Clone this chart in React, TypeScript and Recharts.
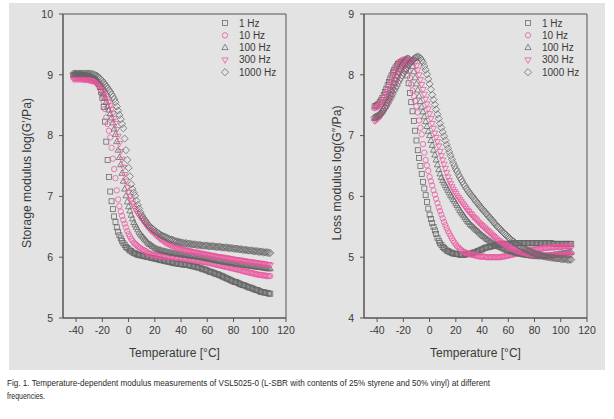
import React from "react";
import { ScatterChart, Scatter, XAxis, YAxis, ReferenceArea, Legend } from "recharts";

// measurement temperatures, °C
const temps = [
  -42, -41, -40, -39, -38, -37, -36, -35, -34, -33,
  -32, -31, -30, -29, -28, -27, -26, -25, -24, -23,
  -22, -21, -20, -19, -18, -17, -16, -15, -14, -13,
  -12, -11, -10, -9, -8, -7, -6, -5, -4, -3,
  -2, -1, 0, 1, 2, 3, 4, 5, 6, 7,
  8, 9, 10, 11, 12, 13, 14, 15, 16, 17,
  18, 19, 20, 21, 22, 23, 24, 25, 26, 27,
  28, 29, 30, 31, 32, 33, 34, 35, 36, 37,
  38, 39, 40, 41, 42, 43, 44, 45, 46, 47,
  48, 49, 50, 51, 52, 53, 54, 55, 56, 57,
  58, 59, 60, 61, 62, 63, 64, 65, 66, 67,
  68, 69, 70, 71, 72, 73, 74, 75, 76, 77,
  78, 79, 80, 81, 82, 83, 84, 85, 86, 87,
  88, 89, 90, 91, 92, 93, 94, 95, 96, 97,
  98, 99, 100, 101, 102, 103, 104, 105, 106, 107,
  108,
];

const frequencies = ["1 Hz", "10 Hz", "100 Hz", "300 Hz", "1000 Hz"];

// storage modulus log(G'/Pa)
const storage1 = [
  9.0, 9.0, 9.0, 9.0, 9.0, 9.0, 8.99, 8.99, 8.99, 8.98,
  8.98, 8.97, 8.96, 8.95, 8.94, 8.93, 8.92, 8.9, 8.88, 8.85,
  8.8, 8.72, 8.62, 8.47, 8.23, 7.9, 7.6, 7.32, 7.08, 6.92,
  6.79, 6.67, 6.58, 6.49, 6.42, 6.36, 6.31, 6.27, 6.23, 6.2,
  6.17, 6.15, 6.13, 6.11, 6.1, 6.08, 6.07, 6.06, 6.05, 6.04,
  6.04, 6.03, 6.03, 6.02, 6.02, 6.01, 6.01, 6.0, 6.0, 5.99,
  5.99, 5.98, 5.98, 5.97, 5.97, 5.96, 5.96, 5.95, 5.95, 5.94,
  5.94, 5.93, 5.93, 5.92, 5.92, 5.91, 5.91, 5.9, 5.9, 5.9,
  5.89, 5.89, 5.89, 5.88, 5.88, 5.88, 5.87, 5.87, 5.87, 5.86,
  5.86, 5.85, 5.85, 5.84, 5.84, 5.83, 5.83, 5.82, 5.81, 5.8,
  5.8, 5.79, 5.78, 5.77, 5.76, 5.76, 5.75, 5.74, 5.73, 5.72,
  5.72, 5.71, 5.7, 5.69, 5.68, 5.67, 5.66, 5.65, 5.64, 5.63,
  5.62, 5.61, 5.6, 5.59, 5.59, 5.58, 5.57, 5.56, 5.55, 5.54,
  5.54, 5.53, 5.52, 5.51, 5.5, 5.5, 5.49, 5.48, 5.47, 5.46,
  5.46, 5.45, 5.44, 5.43, 5.43, 5.42, 5.42, 5.41, 5.41, 5.4,
  5.4,
];
const storage10 = [
  8.95, 8.95, 8.95, 8.95, 8.95, 8.94, 8.94, 8.94, 8.94, 8.93,
  8.93, 8.93, 8.92, 8.92, 8.91, 8.9, 8.89, 8.88, 8.86, 8.84,
  8.8, 8.74, 8.66, 8.56, 8.44, 8.3, 8.19, 8.08, 7.97, 7.8,
  7.62, 7.45, 7.3, 7.1, 6.95, 6.84, 6.75, 6.68, 6.61, 6.55,
  6.49, 6.43, 6.38, 6.34, 6.3, 6.27, 6.24, 6.22, 6.2, 6.18,
  6.16, 6.15, 6.13, 6.12, 6.11, 6.1, 6.08, 6.07, 6.06, 6.05,
  6.04, 6.04, 6.03, 6.03, 6.03, 6.02, 6.02, 6.02, 6.01, 6.01,
  6.01, 6.01, 6.0, 6.0, 6.0, 6.0, 6.0, 5.99, 5.99, 5.99,
  5.99, 5.99, 5.98, 5.98, 5.98, 5.97, 5.97, 5.97, 5.96, 5.96,
  5.96, 5.95, 5.95, 5.95, 5.94, 5.94, 5.94, 5.93, 5.93, 5.92,
  5.92, 5.92, 5.91, 5.91, 5.9, 5.9, 5.89, 5.89, 5.88, 5.88,
  5.87, 5.87, 5.86, 5.86, 5.85, 5.85, 5.84, 5.84, 5.83, 5.83,
  5.82, 5.82, 5.81, 5.81, 5.8, 5.8, 5.79, 5.79, 5.78, 5.77,
  5.77, 5.76, 5.76, 5.75, 5.75, 5.74, 5.74, 5.73, 5.73, 5.72,
  5.72, 5.71, 5.71, 5.71, 5.7, 5.7, 5.7, 5.69, 5.69, 5.69,
  5.69,
];
const storage100 = [
  9.0, 9.0, 9.0, 9.0, 9.0, 9.0, 9.0, 8.99, 8.99, 8.99,
  8.99, 8.98, 8.98, 8.97, 8.96, 8.95, 8.94, 8.93, 8.91, 8.88,
  8.84, 8.79, 8.74, 8.68, 8.62, 8.55, 8.48, 8.42, 8.36, 8.29,
  8.21, 8.11, 8.02, 7.9, 7.76, 7.64, 7.52, 7.38, 7.25, 7.12,
  7.01, 6.91, 6.83, 6.76, 6.69, 6.63, 6.57, 6.53, 6.49, 6.45,
  6.41, 6.38, 6.35, 6.33, 6.3, 6.28, 6.25, 6.23, 6.21, 6.2,
  6.18, 6.17, 6.15, 6.14, 6.13, 6.12, 6.12, 6.11, 6.1, 6.1,
  6.09, 6.09, 6.08, 6.08, 6.07, 6.07, 6.06, 6.06, 6.06, 6.05,
  6.05, 6.05, 6.04, 6.04, 6.04, 6.03, 6.03, 6.03, 6.02, 6.02,
  6.02, 6.02, 6.01, 6.01, 6.01, 6.0, 6.0, 6.0, 5.99, 5.99,
  5.98, 5.98, 5.97, 5.97, 5.97, 5.96, 5.96, 5.95, 5.95, 5.94,
  5.94, 5.94, 5.93, 5.93, 5.92, 5.92, 5.92, 5.91, 5.91, 5.91,
  5.9, 5.9, 5.9, 5.89, 5.89, 5.89, 5.88, 5.88, 5.88, 5.87,
  5.87, 5.87, 5.86, 5.86, 5.86, 5.85, 5.85, 5.85, 5.84, 5.84,
  5.84, 5.84, 5.83, 5.83, 5.83, 5.82, 5.82, 5.82, 5.81, 5.81,
  5.81,
];
const storage300 = [
  8.93, 8.93, 8.93, 8.93, 8.93, 8.93, 8.93, 8.93, 8.92, 8.92,
  8.92, 8.92, 8.91, 8.91, 8.9, 8.9, 8.89, 8.88, 8.87, 8.86,
  8.83, 8.81, 8.78, 8.74, 8.7, 8.65, 8.6, 8.55, 8.49, 8.43,
  8.36, 8.28, 8.2, 8.1, 7.99, 7.87, 7.74, 7.61, 7.48, 7.36,
  7.25, 7.15, 7.07, 7.0, 6.94, 6.89, 6.84, 6.8, 6.76, 6.72,
  6.69, 6.66, 6.63, 6.6, 6.57, 6.54, 6.51, 6.49, 6.46, 6.44,
  6.42, 6.4, 6.38, 6.36, 6.34, 6.32, 6.3, 6.29, 6.27, 6.26,
  6.24, 6.23, 6.22, 6.21, 6.2, 6.19, 6.18, 6.17, 6.16, 6.15,
  6.15, 6.14, 6.13, 6.13, 6.12, 6.12, 6.11, 6.11, 6.1, 6.1,
  6.09, 6.09, 6.08, 6.08, 6.08, 6.07, 6.07, 6.06, 6.06, 6.05,
  6.05, 6.05, 6.04, 6.04, 6.03, 6.03, 6.03, 6.02, 6.02, 6.01,
  6.01, 6.01, 6.0, 6.0, 6.0, 5.99, 5.99, 5.99, 5.98, 5.98,
  5.97, 5.97, 5.97, 5.96, 5.96, 5.96, 5.95, 5.95, 5.95, 5.94,
  5.94, 5.94, 5.93, 5.93, 5.93, 5.92, 5.92, 5.92, 5.91, 5.91,
  5.91, 5.9, 5.9, 5.9, 5.89, 5.89, 5.89, 5.88, 5.88, 5.88,
  5.87,
];
const storage1000 = [
  9.02, 9.02, 9.02, 9.02, 9.02, 9.02, 9.02, 9.02, 9.02, 9.02,
  9.02, 9.02, 9.02, 9.02, 9.01, 9.01, 9.0, 8.99, 8.98, 8.96,
  8.94, 8.92, 8.9, 8.87, 8.84, 8.81, 8.78, 8.75, 8.72, 8.68,
  8.64, 8.6, 8.55, 8.48, 8.41, 8.34, 8.27, 8.19, 8.12, 7.95,
  7.76, 7.6, 7.47, 7.33, 7.2, 7.12, 7.06, 7.01, 6.93, 6.86,
  6.8, 6.74, 6.69, 6.65, 6.62, 6.59, 6.56, 6.53, 6.51, 6.49,
  6.47, 6.45, 6.43, 6.42, 6.4, 6.39, 6.37, 6.36, 6.35, 6.34,
  6.33, 6.32, 6.31, 6.3, 6.29, 6.29, 6.28, 6.27, 6.26, 6.26,
  6.25, 6.25, 6.24, 6.24, 6.23, 6.23, 6.23, 6.22, 6.22, 6.22,
  6.21, 6.21, 6.21, 6.21, 6.2, 6.2, 6.2, 6.2, 6.19, 6.19,
  6.19, 6.19, 6.19, 6.18, 6.18, 6.18, 6.18, 6.18, 6.17, 6.17,
  6.17, 6.17, 6.17, 6.16, 6.16, 6.16, 6.16, 6.16, 6.15, 6.15,
  6.15, 6.15, 6.14, 6.14, 6.14, 6.14, 6.13, 6.13, 6.13, 6.12,
  6.12, 6.12, 6.12, 6.11, 6.11, 6.11, 6.11, 6.1, 6.1, 6.1,
  6.1, 6.09, 6.09, 6.09, 6.09, 6.08, 6.08, 6.08, 6.08, 6.07,
  6.07,
];

// loss modulus log(G''/Pa)
const loss1 = [
  7.48, 7.49, 7.5, 7.52, 7.55, 7.58, 7.62, 7.67, 7.72, 7.77,
  7.83, 7.88, 7.94, 7.99, 8.04, 8.08, 8.12, 8.15, 8.18, 8.2,
  8.21, 8.22, 8.2, 8.16, 8.09, 7.99, 7.86, 7.7, 7.55, 7.4,
  7.24, 7.08, 6.92, 6.76, 6.63, 6.5, 6.37, 6.24, 6.13, 6.02,
  5.91, 5.8, 5.7, 5.63, 5.56, 5.5, 5.44, 5.38, 5.32, 5.27,
  5.23, 5.2, 5.17, 5.15, 5.13, 5.11, 5.1, 5.09, 5.08, 5.07,
  5.06, 5.06, 5.05, 5.05, 5.05, 5.04, 5.04, 5.04, 5.04, 5.04,
  5.05, 5.05, 5.05, 5.06, 5.06, 5.07, 5.08, 5.08, 5.09, 5.1,
  5.11, 5.12, 5.13, 5.14, 5.15, 5.16, 5.16, 5.17, 5.17, 5.18,
  5.18, 5.19, 5.19, 5.2, 5.2, 5.21, 5.21, 5.21, 5.21, 5.22,
  5.22, 5.22, 5.22, 5.22, 5.22, 5.23, 5.23, 5.23, 5.23, 5.23,
  5.23, 5.23, 5.23, 5.23, 5.23, 5.23, 5.23, 5.23, 5.23, 5.23,
  5.23, 5.23, 5.23, 5.23, 5.23, 5.23, 5.23, 5.23, 5.23, 5.23,
  5.23, 5.23, 5.23, 5.23, 5.23, 5.23, 5.22, 5.22, 5.22, 5.22,
  5.22, 5.22, 5.22, 5.22, 5.22, 5.22, 5.22, 5.22, 5.22, 5.22,
  5.22,
];
const loss10 = [
  7.45, 7.46, 7.47, 7.49, 7.52, 7.55, 7.58, 7.62, 7.66, 7.71,
  7.76, 7.81, 7.87, 7.92, 7.98, 8.03, 8.08, 8.12, 8.16, 8.19,
  8.22, 8.24, 8.25, 8.25, 8.22, 8.16, 8.06, 7.95, 7.84, 7.74,
  7.65, 7.57, 7.48, 7.38, 7.25, 7.13, 7.02, 6.86, 6.72, 6.6,
  6.51, 6.42, 6.32, 6.25, 6.18, 6.1, 6.03, 5.96, 5.89, 5.82,
  5.76, 5.7, 5.64, 5.58, 5.53, 5.48, 5.43, 5.39, 5.35, 5.31,
  5.27, 5.24, 5.21, 5.18, 5.16, 5.14, 5.12, 5.1, 5.09, 5.08,
  5.07, 5.06, 5.05, 5.05, 5.04, 5.04, 5.03, 5.03, 5.02, 5.02,
  5.01, 5.01, 5.01, 5.01, 5.01, 5.0, 5.0, 5.0, 5.0, 5.0,
  5.0, 5.0, 5.0, 5.0, 5.0, 5.0, 5.0, 5.01, 5.01, 5.01,
  5.02, 5.02, 5.03, 5.03, 5.04, 5.04, 5.05, 5.05, 5.06, 5.06,
  5.07, 5.07, 5.08, 5.08, 5.09, 5.09, 5.1, 5.1, 5.11, 5.11,
  5.12, 5.12, 5.12, 5.13, 5.13, 5.13, 5.14, 5.14, 5.14, 5.15,
  5.15, 5.15, 5.15, 5.16, 5.16, 5.16, 5.16, 5.16, 5.17, 5.17,
  5.17, 5.17, 5.17, 5.17, 5.18, 5.18, 5.18, 5.18, 5.18, 5.18,
  5.18,
];
const loss100 = [
  7.28, 7.29, 7.3, 7.32, 7.34, 7.37, 7.4, 7.44, 7.48, 7.53,
  7.58, 7.63, 7.68, 7.74, 7.8, 7.86, 7.92, 7.98, 8.04, 8.09,
  8.14, 8.18, 8.21, 8.24, 8.26, 8.27, 8.27, 8.25, 8.21, 8.14,
  8.05, 7.95, 7.85, 7.75, 7.65, 7.56, 7.47, 7.39, 7.31, 7.23,
  7.15, 7.07, 7.0, 6.92, 6.84, 6.76, 6.68, 6.6, 6.52, 6.44,
  6.37, 6.31, 6.26, 6.22, 6.18, 6.14, 6.1, 6.06, 6.02, 5.99,
  5.95, 5.92, 5.88, 5.85, 5.81, 5.77, 5.74, 5.71, 5.68, 5.65,
  5.62, 5.59, 5.57, 5.54, 5.52, 5.5, 5.48, 5.46, 5.44, 5.42,
  5.4, 5.38, 5.36, 5.34, 5.33, 5.31, 5.29, 5.28, 5.26, 5.25,
  5.23, 5.22, 5.21, 5.2, 5.18, 5.17, 5.16, 5.15, 5.14, 5.13,
  5.12, 5.11, 5.11, 5.1, 5.09, 5.09, 5.08, 5.07, 5.07, 5.06,
  5.06, 5.05, 5.05, 5.04, 5.04, 5.04, 5.03, 5.03, 5.03, 5.02,
  5.02, 5.02, 5.02, 5.01, 5.01, 5.01, 5.01, 5.01, 5.01, 5.01,
  5.02, 5.02, 5.02, 5.02, 5.03, 5.03, 5.03, 5.04, 5.04, 5.04,
  5.05, 5.05, 5.05, 5.06, 5.06, 5.06, 5.07, 5.07, 5.07, 5.08,
  5.08,
];
const loss300 = [
  7.24, 7.25, 7.27, 7.29, 7.31, 7.34, 7.37, 7.41, 7.45, 7.49,
  7.54, 7.59, 7.64, 7.69, 7.75, 7.8, 7.86, 7.91, 7.96, 8.01,
  8.05, 8.09, 8.13, 8.16, 8.19, 8.21, 8.23, 8.24, 8.25, 8.25,
  8.23, 8.2, 8.15, 8.08, 8.0, 7.92, 7.84, 7.76, 7.68, 7.6,
  7.52, 7.44, 7.36, 7.28, 7.2, 7.12, 7.04, 6.97, 6.9, 6.83,
  6.74, 6.67, 6.6, 6.53, 6.46, 6.39, 6.32, 6.26, 6.21, 6.16,
  6.12, 6.08, 6.05, 6.01, 5.98, 5.95, 5.92, 5.89, 5.86, 5.83,
  5.8, 5.77, 5.75, 5.72, 5.7, 5.67, 5.65, 5.63, 5.61, 5.58,
  5.56, 5.54, 5.52, 5.5, 5.48, 5.46, 5.44, 5.42, 5.4, 5.38,
  5.36, 5.34, 5.32, 5.3, 5.28, 5.27, 5.25, 5.24, 5.22, 5.21,
  5.2, 5.18, 5.17, 5.16, 5.15, 5.14, 5.13, 5.12, 5.11, 5.1,
  5.1, 5.09, 5.08, 5.08, 5.07, 5.07, 5.06, 5.06, 5.05, 5.05,
  5.05, 5.04, 5.04, 5.04, 5.04, 5.04, 5.03, 5.03, 5.03, 5.03,
  5.03, 5.03, 5.03, 5.03, 5.03, 5.03, 5.03, 5.03, 5.04, 5.04,
  5.04, 5.04, 5.04, 5.04, 5.04, 5.05, 5.05, 5.05, 5.05, 5.05,
  5.05,
];
const loss1000 = [
  7.3, 7.31, 7.32, 7.33, 7.35, 7.37, 7.4, 7.43, 7.46, 7.49,
  7.53, 7.57, 7.61, 7.65, 7.69, 7.74, 7.78, 7.82, 7.87, 7.91,
  7.95, 7.99, 8.03, 8.06, 8.1, 8.13, 8.16, 8.19, 8.22, 8.24,
  8.26, 8.28, 8.29, 8.3, 8.29, 8.27, 8.24, 8.2, 8.14, 8.08,
  8.01, 7.93, 7.85, 7.76, 7.67, 7.59, 7.51, 7.43, 7.35, 7.28,
  7.2, 7.13, 7.06, 6.99, 6.92, 6.85, 6.79, 6.73, 6.67, 6.61,
  6.55, 6.5, 6.45, 6.41, 6.36, 6.32, 6.28, 6.24, 6.2, 6.17,
  6.13, 6.1, 6.07, 6.04, 6.01, 5.99, 5.96, 5.93, 5.9, 5.88,
  5.85, 5.82, 5.8, 5.77, 5.75, 5.72, 5.7, 5.67, 5.65, 5.62,
  5.6, 5.57, 5.55, 5.52, 5.5, 5.48, 5.46, 5.43, 5.41, 5.39,
  5.37, 5.35, 5.33, 5.31, 5.29, 5.27, 5.26, 5.24, 5.22, 5.21,
  5.19, 5.18, 5.17, 5.15, 5.14, 5.13, 5.12, 5.11, 5.1, 5.09,
  5.08, 5.07, 5.06, 5.05, 5.05, 5.04, 5.03, 5.03, 5.02, 5.02,
  5.01, 5.01, 5.0, 5.0, 5.0, 4.99, 4.99, 4.99, 4.98, 4.98,
  4.98, 4.98, 4.97, 4.97, 4.97, 4.97, 4.97, 4.96, 4.96, 4.96,
  4.96,
];

const tempTicks = [-40, -20, 0, 20, 40, 60, 80, 100, 120];
const storageTicks = [5, 6, 7, 8, 9, 10];
const lossTicks = [4, 5, 6, 7, 8, 9];

const GRAY = "#656565";
const PINK = "#e9569e";
const AXIS = "#555";
const TEXT = "#3a3a3a";
const FONT = 'Arial, "Liberation Sans", sans-serif';

const markerKinds = ["square", "circle", "triangle", "down", "diamond"];
const markerColors = [GRAY, PINK, GRAY, PINK, GRAY];

function drawMarker(kind: string, cx: number, cy: number, color: string) {
  const common = { fill: "none", stroke: color, strokeWidth: 0.75 };
  switch (kind) {
    case "square":
      return <rect x={cx - 2.5} y={cy - 2.5} width={5} height={5} {...common} />;
    case "circle":
      return <circle cx={cx} cy={cy} r={2.7} {...common} />;
    case "triangle":
      return <polygon points={`${cx},${cy - 3.4} ${cx + 3.1},${cy + 2} ${cx - 3.1},${cy + 2}`} {...common} />;
    case "down":
      return <polygon points={`${cx},${cy + 3.4} ${cx + 3.1},${cy - 2} ${cx - 3.1},${cy - 2}`} {...common} />;
    default:
      return <polygon points={`${cx},${cy - 3.6} ${cx + 3.6},${cy} ${cx},${cy + 3.6} ${cx - 3.6},${cy}`} {...common} />;
  }
}

function markerShape(kind: string, color: string) {
  return (props: any) => {
    if (props.cx == null || props.cy == null) return <g />;
    return drawMarker(kind, props.cx, props.cy, color);
  };
}

interface ChartProps {
  series: number[][];
  yDomain: [number, number];
  yTicks: number[];
  yLabel: string;
  yLabelX: number;
  legendLeft: number;
}

function ModulusChart({ series, yDomain, yTicks, yLabel, yLabelX, legendLeft }: ChartProps) {
  const renderLegend = () => (
    <svg width={80} height={64} style={{ display: "block" }}>
      {frequencies.map((f, i) => (
        <g key={f}>
          {drawMarker(markerKinds[i], 5, 6 + i * 12.3, markerColors[i])}
          <text x={19} y={6 + i * 12.3} dy="0.35em" fontSize={10} fill={TEXT} fontFamily={FONT}>
            {f}
          </text>
        </g>
      ))}
    </svg>
  );

  return (
    <ScatterChart width={300} height={370} margin={{ top: 14, right: 14, bottom: 22, left: 33 }}>
      <XAxis
        type="number"
        dataKey="t"
        domain={[-50, 120]}
        ticks={tempTicks}
        height={30}
        tickSize={4}
        tickMargin={5}
        axisLine={{ stroke: AXIS }}
        tickLine={{ stroke: AXIS }}
        tick={{ fontSize: 10.5, fill: TEXT, fontFamily: FONT }}
        label={{
          content: () => (
            <text x={174.5} y={357} textAnchor="middle" fontSize={12} fill={TEXT} fontFamily={FONT}>
              Temperature [°C]
            </text>
          ),
        }}
      />
      <YAxis
        type="number"
        dataKey="v"
        domain={yDomain}
        ticks={yTicks}
        width={30}
        tickSize={4}
        tickMargin={6}
        axisLine={{ stroke: AXIS }}
        tickLine={{ stroke: AXIS }}
        tick={{ fontSize: 10.5, fill: TEXT, fontFamily: FONT }}
        label={{
          content: () => (
            <text
              x={yLabelX}
              y={173}
              textAnchor="middle"
              dominantBaseline="central"
              transform={`rotate(-90 ${yLabelX} 173)`}
              fontSize={12.2}
              fill={TEXT}
              fontFamily={FONT}
            >
              {yLabel}
            </text>
          ),
        }}
      />
      <ReferenceArea x1={-50} x2={120} y1={yDomain[0]} y2={yDomain[1]} fill="none" stroke={AXIS} strokeWidth={1} />
      {series.map((values, i) => (
        <Scatter
          key={frequencies[i]}
          name={frequencies[i]}
          data={temps.map((t, j) => ({ t, v: values[j] }))}
          shape={markerShape(markerKinds[i], markerColors[i])}
          isAnimationActive={false}
        />
      ))}
      <Legend
        layout="vertical"
        align="center"
        verticalAlign="middle"
        content={renderLegend}
        wrapperStyle={{ position: "absolute", left: legendLeft, top: 17, width: 80, height: 64 }}
      />
    </ScatterChart>
  );
}

export default function App() {
  return (
    <div style={{ position: "absolute", left: 0, top: 0, width: 614, height: 419, background: "#fff", overflow: "hidden" }}>
      <div style={{ position: "absolute", left: 9, top: 3, width: 596, height: 367, background: "#e2e3e2" }} />
      <div style={{ position: "absolute", left: 0, top: 0 }}>
        <ModulusChart
          series={[storage1, storage10, storage100, storage300, storage1000]}
          yDomain={[5, 10]}
          yTicks={storageTicks}
          yLabel="Storage modulus log(G′/Pa)"
          yLabelX={27}
          legendLeft={220}
        />
      </div>
      <div style={{ position: "absolute", left: 301, top: 0 }}>
        <ModulusChart
          series={[loss1, loss10, loss100, loss300, loss1000]}
          yDomain={[4, 9]}
          yTicks={lossTicks}
          yLabel="Loss modulus log(G″/Pa)"
          yLabelX={36}
          legendLeft={222}
        />
      </div>
      <svg style={{ position: "absolute", left: 0, top: 370 }} width={614} height={49}>
        <text x={7} y={15.5} fontSize={9.6} fill="#2a2a2a" fontFamily={FONT} textLength={483} lengthAdjust="spacingAndGlyphs">
          Fig. 1. Temperature-dependent modulus measurements of VSL5025-0 (L-SBR with contents of 25% styrene and 50% vinyl) at different
        </text>
        <text x={7} y={28.5} fontSize={9.6} fill="#2a2a2a" fontFamily={FONT} textLength={38} lengthAdjust="spacingAndGlyphs">
          frequencies.
        </text>
      </svg>
    </div>
  );
}
